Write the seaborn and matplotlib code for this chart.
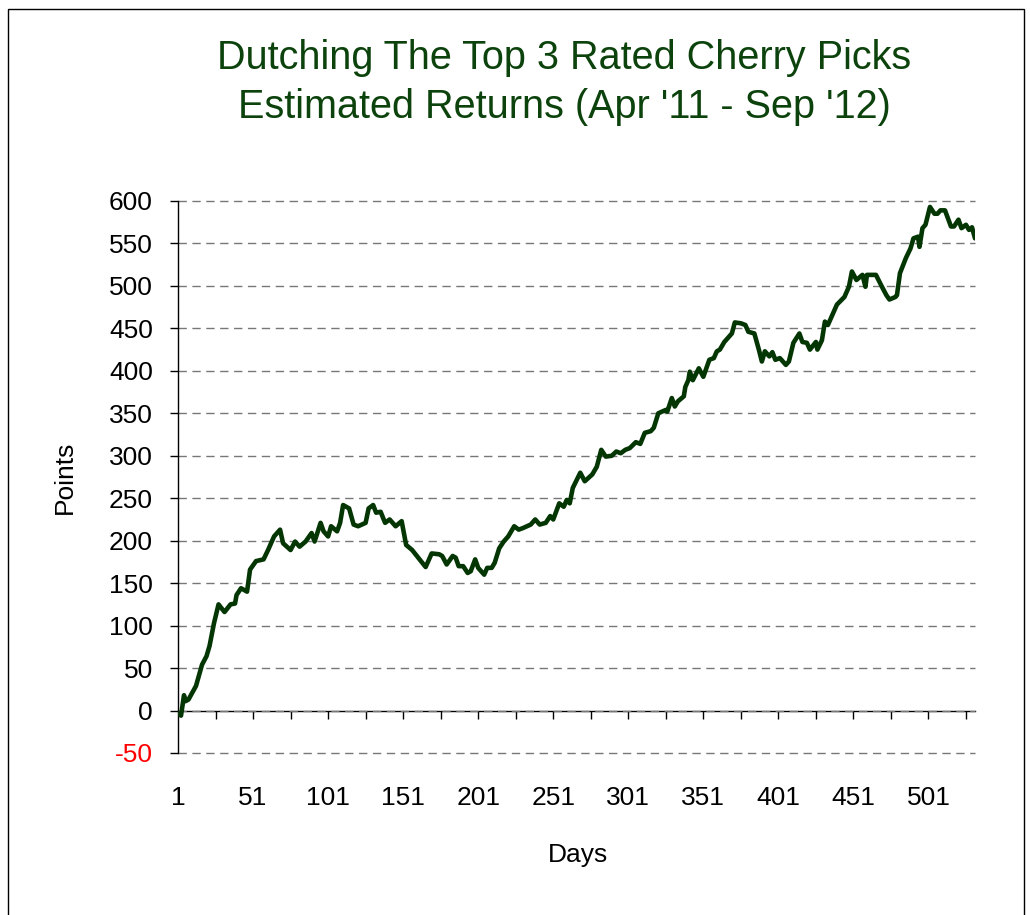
import matplotlib
matplotlib.use('Agg')
import matplotlib.pyplot as plt
from matplotlib import font_manager
from matplotlib.patches import Rectangle
import pandas as pd
import seaborn as sns

# values
days = [1, 3, 5, 6, 8, 13, 17, 20, 22, 25, 28, 32, 36, 39, 40, 43, 47, 49, 53, 58,
        61, 65, 69, 71, 76, 79, 82, 86, 90, 92, 96, 98, 101, 103, 107, 109, 111, 115, 118, 121,
        126, 128, 131, 133, 136, 139, 142, 146, 150, 153, 157, 162, 166, 170, 175, 177, 180, 184, 186, 188,
        191, 194, 196, 199, 201, 205, 207, 210, 212, 215, 218, 221, 225, 228, 231, 236, 239, 242, 246, 249,
        251, 255, 258, 260, 262, 264, 269, 272, 277, 280, 283, 286, 290, 293, 296, 299, 302, 306, 309, 312,
        316, 318, 321, 326, 327, 330, 332, 334, 338, 339, 341, 342, 344, 348, 351, 355, 358, 360, 362, 365,
        368, 370, 372, 376, 379, 381, 385, 388, 390, 392, 395, 397, 399, 402, 406, 408, 411, 415, 417, 420,
        422, 426, 427, 430, 432, 434, 436, 440, 445, 448, 450, 453, 457, 459, 460, 466, 470, 473, 475, 479,
        480, 482, 486, 489, 491, 494, 495, 497, 499, 502, 505, 507, 509, 512, 516, 518, 521, 523, 526, 528,
        530, 532]
points = [-3, -6, 18, 11, 13, 29, 54, 64, 76, 103, 125, 116, 125, 126, 136, 144, 140, 166, 176, 178,
          189, 205, 213, 197, 189, 199, 193, 199, 209, 199, 221, 211, 205, 217, 211, 221, 242, 238, 219, 217,
          221, 238, 242, 233, 234, 221, 225, 217, 223, 195, 189, 178, 169, 185, 184, 182, 172, 182, 180, 170,
          170, 162, 164, 178, 168, 160, 168, 168, 174, 191, 199, 205, 217, 213, 215, 219, 225, 219, 221, 229,
          225, 244, 240, 248, 244, 262, 280, 270, 278, 287, 307, 299, 300, 305, 303, 307, 309, 316, 314, 327,
          329, 333, 350, 354, 352, 368, 358, 364, 370, 381, 389, 399, 389, 403, 393, 413, 415, 423, 425, 434,
          440, 444, 457, 456, 454, 446, 444, 425, 411, 423, 417, 422, 413, 415, 407, 411, 433, 444, 434, 433,
          425, 434, 425, 436, 458, 454, 462, 478, 487, 499, 517, 507, 513, 499, 513, 513, 499, 489, 484, 487,
          489, 515, 533, 544, 556, 558, 546, 568, 572, 593, 585, 585, 589, 589, 570, 570, 578, 568, 572, 566,
          569, 556]

y_ticks = list(range(-50, 601, 50))
x_labels = list(range(1, 502, 50))
x_marks = list(range(26, 532, 25))

title_lines = ["Dutching The Top 3 Rated Cherry Picks",
               "Estimated Returns (Apr '11 - Sep '12)"]

line_color = '#043604'
title_color = '#0c420c'

sns.set_style('white')
plt.rcParams['font.family'] = ['Liberation Sans', 'DejaVu Sans']

names = {f.name for f in font_manager.fontManager.ttflist}
if 'Liberation Sans Narrow' in names:
    title_font, title_size = ['Liberation Sans Narrow', 'DejaVu Sans'], 34.5
else:
    title_font, title_size = ['Liberation Sans', 'DejaVu Sans'], 28.5

fig = plt.figure(figsize=(10.3, 9.15), dpi=100)
ax = fig.add_axes([178 / 1030, 1 - 753 / 915, 797 / 1030, 552 / 915])

df = pd.DataFrame({'Days': days, 'Points': points})
sns.lineplot(data=df, x='Days', y='Points', color=line_color, lw=3.3, ax=ax, zorder=3)

ax.set_xlim(1, 532)
ax.set_ylim(-50, 600)

# dashed horizontal gridlines
ax.set_axisbelow(True)
ax.grid(axis='y', color='#777777', ls=(0, (6, 4)), lw=1)
ax.grid(axis='x', visible=False)

ax.set_yticks(y_ticks, labels=[str(v) for v in y_ticks])
ax.tick_params(axis='y', left=True, length=6, width=1, color='black', pad=12,
               labelsize=19, labelcolor='black')
ax.get_yticklabels()[0].set_color('red')
for gl in ax.get_ygridlines():
    gl.set_clip_on(False)

ax.set_xticks(x_labels, labels=[str(v) for v in x_labels])
ax.tick_params(axis='x', bottom=True, length=0, pad=24, labelsize=19, labelcolor='black')

for side in ['top', 'right', 'bottom']:
    ax.spines[side].set_visible(False)
ax.spines['left'].set_color('black')
ax.spines['left'].set_linewidth(1)

# category axis line sits at zero
sec = ax.secondary_xaxis(50 / 650)
sec.set_xticks(x_marks, labels=['' for _ in x_marks])
sec.tick_params(direction='out', length=6, width=1, color='black')
sec.spines['bottom'].set_color('black')
sec.spines['bottom'].set_linewidth(1)

ax.set_xlabel('Days', fontsize=19, va='center', color='black')
ax.xaxis.set_label_coords(0.502, -0.185)
ax.set_ylabel('Points', fontsize=19, va='center', color='black')
ax.yaxis.set_label_coords(-0.142, 0.5)

fig.text(564 / 1030, 1 - 58 / 915, title_lines[0], ha='center', va='center',
         color=title_color, fontsize=title_size, family=title_font)
fig.text(564 / 1030, 1 - 107 / 915, title_lines[1], ha='center', va='center',
         color=title_color, fontsize=title_size, family=title_font)

fig.add_artist(Rectangle((8 / 1030, -0.01), 1016 / 1030, 1.01 - 9 / 915,
                         transform=fig.transFigure, fill=False, ec='black', lw=1))

fig.savefig('out.png', dpi=100)
